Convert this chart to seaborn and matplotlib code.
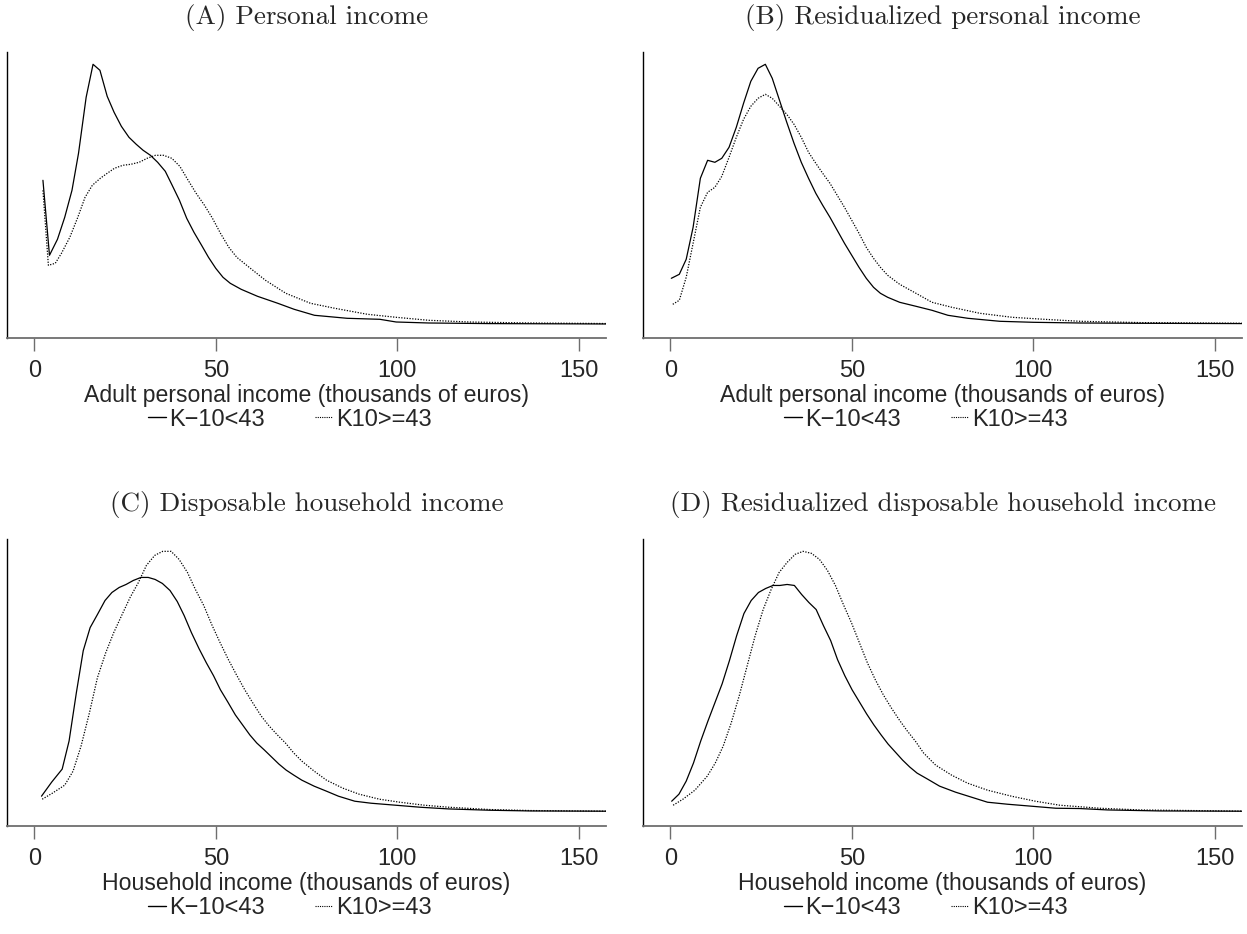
import numpy as np
import pandas as pd
import matplotlib
matplotlib.use("Agg")
import matplotlib.pyplot as plt
import seaborn as sns

# ---------------- data (density, arbitrary units) ----------------
LOW = "K\u221210<43"
HIGH = "K10>=43"

a_low_x = [2.4, 4.2, 6.4, 8.4, 10.4, 12.2, 14.3, 16.2, 18.1, 20.1, 22.0, 24.0, 26.1, 28.1, 30.0, 32.0, 34.0, 36.1, 38.0, 40.0, 42.0, 44.0, 46.1, 48.0, 50.0, 52.0, 54.0, 57.0, 61.5, 67.1, 71.6, 77.2, 86.2, 95.2, 99.7, 108.7, 125.5, 160]
a_low_y = [144, 69, 85, 107, 134, 171, 227, 260, 254, 228, 212, 198, 187, 180, 174, 169, 162, 153, 139, 124, 106, 92, 79, 67, 56, 47, 41, 35, 28, 21, 15, 9, 6, 5, 2.3, 1.3, 0.7, 0.3]
a_high_x = [2.4, 3.9, 5.8, 7.5, 9.8, 12.0, 14.0, 16.0, 18.2, 20.1, 22.1, 24.4, 26.6, 28.9, 31.1, 33.4, 35.6, 37.9, 40.1, 42.4, 44.6, 46.9, 49.1, 51.3, 53.6, 55.8, 59.2, 63.7, 69.3, 76.1, 82.8, 91.8, 99.7, 108.7, 119.9, 136.7, 160]
a_high_y = [134, 59, 61, 71, 87, 107, 127, 139, 146, 151, 156, 159, 160, 162, 166, 169, 169, 166, 158, 144, 131, 119, 106, 91, 77, 67, 57, 44, 31, 21, 16, 10, 7, 4, 2.3, 1.3, 0.7]

b_low_x = [0.3, 2.5, 4.4, 6.3, 8.3, 10.3, 12.3, 14.2, 16.2, 18.2, 20.2, 22.2, 24.2, 26.2, 28.1, 30.1, 32.1, 34.1, 36.1, 38.1, 40.1, 42.0, 44.0, 46.0, 48.0, 50.0, 52.0, 54.0, 56.0, 57.9, 59.9, 63.2, 67.7, 72.1, 76.5, 82.0, 90.8, 100, 112.9, 129.5, 160]
b_low_y = [46, 50, 65, 97, 146, 164, 162, 166, 177, 197, 221, 243, 256, 260, 246, 224, 202, 181, 162, 146, 131, 119, 107, 94, 81, 69, 57, 46, 37, 31, 27, 22, 18, 14, 9, 6, 3, 2, 1.3, 1, 0.7]
b_high_x = [0.7, 2.5, 4.4, 6.3, 8.3, 10.3, 12.3, 14.2, 16.2, 18.2, 20.2, 22.2, 24.2, 26.2, 28.1, 30.1, 32.1, 34.1, 36.1, 38.1, 40.1, 42.0, 44.0, 46.0, 48.0, 50.0, 52.0, 54.0, 56.0, 57.9, 59.9, 63.2, 67.7, 72.1, 77.6, 85.3, 94.2, 103, 112.9, 129.5, 160]
b_high_y = [20, 24, 47, 81, 117, 132, 137, 148, 167, 187, 205, 218, 226, 230, 226, 218, 210, 200, 187, 172, 161, 151, 141, 129, 117, 104, 91, 77, 66, 57, 49, 40, 31, 22, 17, 11, 7, 5, 3, 1.7, 1]

c_low_x = [2.0, 4.8, 7.7, 9.6, 11.6, 13.5, 15.4, 17.4, 19.5, 21.4, 23.4, 25.3, 27.3, 29.4, 31.4, 33.3, 35.3, 37.4, 39.4, 41.3, 43.3, 45.4, 47.4, 49.4, 51.3, 53.3, 55.4, 57.4, 59.4, 61.3, 63.4, 65.4, 67.4, 69.4, 71.5, 73.7, 77.1, 80.5, 83.8, 88.3, 92.8, 99.6, 106.3, 114.2, 125.5, 136.7, 160]
c_low_y = [16, 30, 43, 71, 119, 161, 184, 197, 211, 219, 224, 227, 231, 234, 234, 232, 228, 221, 210, 196, 179, 163, 149, 136, 122, 110, 97, 87, 77, 69, 62, 55, 48, 42, 37, 32, 26, 21, 16, 11, 9, 7, 5, 3.3, 2, 1.3, 1]
c_high_x = [2.2, 5.0, 8.4, 10.7, 12.9, 15.2, 17.4, 19.7, 21.9, 24.2, 26.4, 28.7, 30.9, 33.2, 35.4, 37.7, 39.9, 42.2, 44.4, 46.7, 48.9, 51.2, 53.5, 55.7, 58.0, 60.2, 62.5, 64.7, 67.0, 69.2, 71.5, 73.7, 77.1, 80.5, 85.0, 89.5, 95.1, 100.7, 107.5, 114.2, 125.5, 136.7, 160]
c_high_y = [13, 19, 27, 41, 66, 99, 134, 159, 179, 197, 214, 229, 246, 256, 260, 260, 252, 239, 222, 206, 187, 169, 152, 137, 122, 109, 96, 86, 77, 69, 59, 51, 41, 32, 24, 18, 13, 10, 7, 5, 2.7, 1.7, 1]

d_low_x = [0.4, 2.4, 4.4, 6.4, 8.4, 10.4, 12.4, 14.3, 16.3, 18.3, 20.3, 22.3, 24.3, 26.3, 28.3, 30.2, 32.2, 34.2, 36.2, 38.2, 40.2, 42.2, 44.2, 46.1, 48.1, 50.1, 52.1, 54.1, 56.1, 58.1, 60.0, 62.0, 64.0, 66.0, 68.0, 70.9, 74.2, 78.6, 83.0, 87.4, 92.9, 99.6, 106.2, 112.8, 120.5, 134.9, 160]
d_low_y = [11, 18, 31, 49, 71, 91, 110, 128, 151, 176, 198, 211, 219, 223, 226, 226, 227, 226, 217, 209, 202, 186, 171, 152, 136, 122, 110, 98, 87, 77, 68, 60, 52, 45, 39, 33, 26, 20, 15, 10, 8, 6, 4, 3.7, 2.3, 1.3, 1]
d_high_x = [0.8, 3.5, 6.8, 10.2, 12.4, 14.6, 16.8, 19.0, 21.2, 23.4, 25.6, 27.8, 30.0, 32.2, 34.4, 36.6, 38.9, 41.1, 43.3, 45.5, 47.7, 49.9, 52.1, 54.3, 56.5, 58.7, 60.9, 63.1, 65.3, 67.5, 69.8, 73.1, 77.5, 81.9, 87.4, 94.0, 100.6, 107.3, 118.3, 129.4, 160]
d_high_y = [7, 13, 22, 36, 49, 66, 89, 116, 146, 176, 202, 222, 239, 249, 257, 260, 258, 252, 241, 226, 207, 189, 169, 149, 132, 117, 104, 92, 81, 71, 59, 47, 37, 29, 22, 16, 11, 7, 4, 2.3, 1]

titles = ["(A) Personal income", "(B) Residualized personal income",
          "(C) Disposable household income", "(D) Residualized disposable household income"]
xlabels = ["Adult personal income (thousands of euros)", "Adult personal income (thousands of euros)",
           "Household income (thousands of euros)", "Household income (thousands of euros)"]
xticks = [0, 50, 100, 150]

panels = [(a_low_x, a_low_y, a_high_x, a_high_y),
          (b_low_x, b_low_y, b_high_x, b_high_y),
          (c_low_x, c_low_y, c_high_x, c_high_y),
          (d_low_x, d_low_y, d_high_x, d_high_y)]

# ---------------- figure ----------------
sns.set_style("ticks")
plt.rcParams['font.family'] = ['Liberation Sans', 'DejaVu Sans']

W, H = 1247, 934
fig = plt.figure(figsize=(W / 100, H / 100), dpi=100)

# axes boxes in pixels: left, right, top, bottom
boxes = [(7, 606, 52, 338), (643, 1242, 52, 338),
         (7, 606, 539, 826), (643, 1242, 539, 826)]

for i, (box, pdata) in enumerate(zip(boxes, panels)):
    l, r, t, b = box
    ax = fig.add_axes([l / W, 1 - b / H, (r - l) / W, (b - t) / H])
    lx, ly, hx, hy = pdata
    df = pd.concat([
        pd.DataFrame({"x": lx, "y": ly, "g": LOW}),
        pd.DataFrame({"x": hx, "y": hy, "g": HIGH}),
    ])
    sns.lineplot(data=df, x="x", y="y", style="g", style_order=[LOW, HIGH],
                 dashes={LOW: "", HIGH: (1, 1.2)}, color="black", linewidth=0.9,
                 ax=ax, legend=False, sort=False)
    ax.set_xlim(-7.5, 157.5)
    ax.set_ylim(-13.7, 272.3)
    ax.set_yticks([])
    ax.set_ylabel("")
    ax.set_xticks(xticks)
    ax.set_xticklabels([str(v) for v in xticks], fontsize=17)
    ax.tick_params(axis="x", length=9.5, width=1, color="#6e6e6e", pad=6)
    for s in ["top", "right"]:
        ax.spines[s].set_visible(False)
    ax.spines["bottom"].set_color("#6e6e6e")
    ax.spines["bottom"].set_linewidth(1.3)
    ax.spines["left"].set_color("black")
    ax.spines["left"].set_linewidth(1.0)
    ax.set_xlabel(xlabels[i], fontsize=16.6, labelpad=2)
    ax.set_title(titles[i], fontsize=19.5, family="cmr10", pad=20.5)

    # legend
    h1, = ax.plot([], [], color="black", lw=1.0, ls="-")
    h2, = ax.plot([], [], color="black", lw=0.8, ls=(0, (1, 1)))
    ax.legend([h1, h2], [LOW, HIGH], loc="center", bbox_to_anchor=(0.472, -0.285),
              ncol=2, frameon=False, fontsize=17, handlelength=0.75,
              handletextpad=0.15, columnspacing=2.1, borderaxespad=0)

fig.savefig("out.png", dpi=100)
